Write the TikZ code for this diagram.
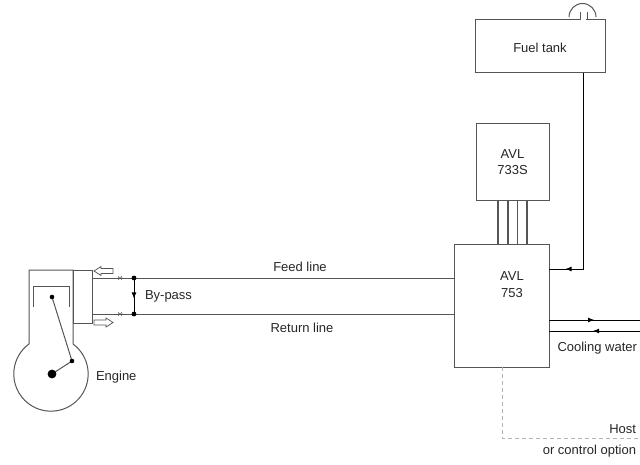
\documentclass[tikz,border=0pt]{standalone}
\usepackage{fontspec}
\setmainfont{Liberation Sans}
\usetikzlibrary{arrows.meta,decorations.markings}
\definecolor{linegray}{HTML}{555555}
\definecolor{dashgray}{HTML}{B4B4B4}
\begin{document}
\begin{tikzpicture}[x=1pt,y=-1pt,
  every node/.style={font=\fontsize{13}{16.5}\selectfont, inner sep=0pt, outer sep=0pt, text=black!85},
  stroke/.style={draw=linegray, line width=1pt},
  unit/.style={stroke, fill=white, rectangle, minimum width=#1},
  pipe/.style={draw=linegray, line width=1pt},
  darkpipe/.style={draw=black, line width=1pt},
  tip/.tip={Latex[length=6.5pt,width=5pt]},
  midarrow/.style={postaction={decorate}, decoration={markings, mark=at position #1 with {\arrow{tip}}}},
  joint/.style={fill=black},
  coupling/.pic={
    \draw[linegray, line width=0.45pt] (0,0) circle (0.9pt)
      (-1.17pt,1.99pt) arc[start angle=130,end angle=230,radius=2.6pt]
      (1.17pt,-1.99pt) arc[start angle=-50,end angle=50,radius=2.6pt];
  },
  flowarrow/.style={draw=linegray, line width=0.75pt, fill=white}
]
\useasboundingbox (0,0) rectangle (640,465);

% ---------- units ----------
\node[unit=95pt, minimum height=122pt] (avl753) at (501.5,306) {};
\node[align=center] (avl753text) at (512,284.5) {AVL\\753};

\node[unit=73pt, minimum height=77pt] (avl733) at (512.5,162.5) {};
\node[align=center] (avl733text) at (512.5,162) {AVL\\733S};

\node[unit=130pt, minimum height=53pt] (tank) at (540,46.5) {};
\node (tanktext) at (540,48) {Fuel tank};

% tank vent
\fill[white] (580.6,19) rectangle (586.4,21);
\draw[stroke] (580,20) -- (580,12) (587,20) -- (587,12);
\draw[stroke] (569,17) arc[start angle=180,end angle=0,radius=13.5pt];

% ---------- engine ----------
\draw[stroke] (29,344) -- (29,270) -- (73,270) -- (73,344)
  arc[start angle=53.7,end angle=-233.7,radius=37.2pt];
\node[stroke, rectangle, minimum width=19pt, minimum height=53pt] (head) at (82.5,296.5) {};
\draw[stroke] (33,307) -- (33,286) -- (69,286) -- (69,307);
\coordinate (pin) at (52,297);
\coordinate (crankpin) at (72,361);
\coordinate (crank) at (52,374);
\draw[stroke] (pin) -- (crankpin) -- (crank);
\fill[joint] (pin) circle (2.3pt) (crankpin) circle (2.3pt) (crank) circle (4.4pt);
\node[anchor=west] (enginetext) at (96,377) {Engine};

% ---------- feed / return lines ----------
\coordinate (feedL) at (92,278);
\coordinate (feedR) at (454,278);
\coordinate (retL) at (92,314);
\coordinate (retR) at (454,314);
\draw[pipe] (feedL) -- (feedR);
\draw[pipe] (retL) -- (retR);
\pic at (120,278) {coupling};
\pic at (120,314) {coupling};

\coordinate (bpTop) at (134,278);
\coordinate (bpBot) at (134,314);
\draw[darkpipe, midarrow=0.58] (bpTop) -- (bpBot);
\fill[joint] (bpTop) circle (2.4pt) (bpBot) circle (2.4pt);
\node[anchor=west] (bypass) at (145,296) {By-pass};

\node (feedtext) at (300,267) {Feed line};
\node (rettext) at (302,328) {Return line};

% flow direction at the engine connection
\draw[flowarrow] (94,271) -- (101,266.5) -- (101,268.5) -- (113,268.5) -- (113,273.5)
  -- (101,273.5) -- (101,275.5) -- cycle;
\draw[flowarrow] (113,322.5) -- (106,318) -- (106,320) -- (94,320) -- (94,325)
  -- (106,325) -- (106,327) -- cycle;

% ---------- measuring unit link ----------
\foreach \x in {498,508,517.5,527}
  \draw[stroke, line width=1.1pt] (\x,201) -- (\x,245);

% ---------- fuel supply ----------
\coordinate (tankout) at (583,73);
\coordinate (fuelin) at (549,269);
\draw[darkpipe, midarrow=0.93] (tankout) |- (fuelin);

% ---------- cooling water ----------
\coordinate (cwInA) at (549,320);
\coordinate (cwInB) at (640,320);
\coordinate (cwOutA) at (640,331);
\coordinate (cwOutB) at (549,331);
\draw[darkpipe, midarrow=0.5] (cwInA) -- (cwInB);
\draw[darkpipe, midarrow=0.52] (cwOutA) -- (cwOutB);
\node[anchor=east] (cwtext) at (637,348) {Cooling water};

% ---------- host link ----------
\coordinate (hostTop) at (502,367);
\coordinate (hostEnd) at (638,438);
\draw[draw=dashgray, line width=0.9pt, dash pattern=on 4pt off 3pt] (hostTop) |- (hostEnd);
\node[anchor=east] (hosttext) at (636,429) {Host};
\node[anchor=east] (hosttext2) at (636,451) {or control option};
\end{tikzpicture}
\end{document}
